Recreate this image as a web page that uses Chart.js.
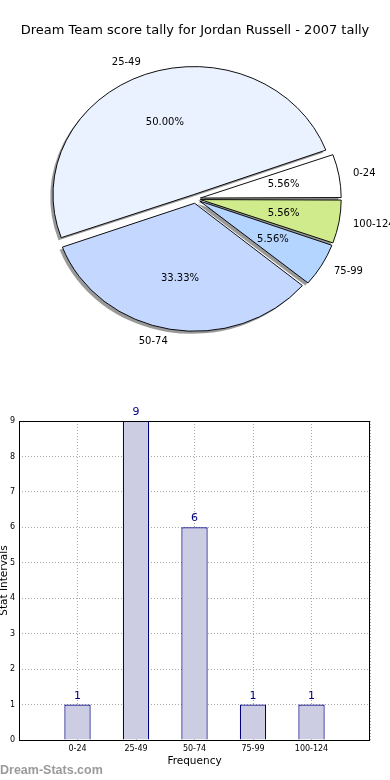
<!DOCTYPE html>
<html>
<head>
<meta charset="utf-8">
<script src="https://cdn.jsdelivr.net/npm/chart.js@4"></script>
<style>
  html, body { margin: 0; padding: 0; background: #fff; }
  #wrap { position: relative; width: 390px; height: 780px; overflow: hidden; }
  canvas { display: block; }
  #mark { position: absolute; left: 0; top: 764px; font: bold 12.5px "Liberation Sans", sans-serif; line-height: 12.5px; color: #9a9a9a; white-space: nowrap; }
</style>
</head>
<body>
<div id="wrap">
  <canvas id="pieChart" width="390" height="390"></canvas>
  <canvas id="barChart" width="390" height="390"></canvas>
  <div id="mark">Dream-Stats.com</div>
</div>
<script>
/* ── Data ─────────────────────────────────────────────── */
const categories = ['0-24', '25-49', '50-74', '75-99', '100-124'];
const counts = [1, 9, 6, 1, 1];
const yTicks = [0, 1, 2, 3, 4, 5, 6, 7, 8, 9];
const pieColors = ['#FFFFFF', '#EBF2FF', '#C4D8FF', '#B4D5FF', '#CFEB8B'];

Chart.defaults.font.family = 'DejaVu Sans';
Chart.defaults.color = '#000';

/* ── Pie (matplotlib style: counter-clockwise from east, so reverse for Chart.js) ── */
const pieLabels = categories.slice().reverse();
const pieData = counts.slice().reverse();
const pieBg = pieColors.slice().reverse();
const PIE_R = 128;
const SX = 1.10;      // ellipse stretch
const SHIFT_X = 0.5;

const pieLook = {
  id: 'pieLook',
  afterUpdate(chart) {
    // Chart.js grows arcs by offset*fix; undo it so every wedge keeps the same radius
    chart.getDatasetMeta(0).data.forEach(el => {
      const off = (el.options.offset || 0) / 4;
      const fix = 1 - Math.sin(Math.min(Math.PI, el.circumference));
      el.outerRadius = PIE_R - off * fix;
    });
  },
  beforeDatasetsDraw(chart) {
    const ctx = chart.ctx;
    const arcs = chart.getDatasetMeta(0).data;
    const cx = arcs[0].x;
    ctx.save();
    ctx.translate(cx + SHIFT_X, 0);
    ctx.scale(SX, 1);
    ctx.translate(-cx, 0);
    // shadows first
    arcs.forEach(el => {
      const fake = Object.create(el);
      fake.options = Object.assign({}, el.options, { backgroundColor: 'rgba(0,0,0,0.4)', borderColor: 'rgba(0,0,0,0)' });
      ctx.save();
      ctx.translate(-2.5, 2.6);
      el.draw.call(fake, ctx);
      ctx.restore();
    });
  },
  afterDatasetsDraw(chart) {
    const ctx = chart.ctx;
    ctx.restore();
    const arcs = chart.getDatasetMeta(0).data;
    const total = pieData.reduce((a, b) => a + b, 0);
    const cx = arcs[0].x;
    const sx = x => cx + SHIFT_X + (x - cx) * SX;
    ctx.save();
    ctx.fillStyle = '#000';
    ctx.font = '10px "DejaVu Sans"';
    ctx.textBaseline = 'middle';
    arcs.forEach((el, i) => {
      const mid = (el.startAngle + el.endAngle) / 2;
      const off = (el.options.offset || 0) / 4;
      const ax = el.x + Math.cos(mid) * off;
      const ay = el.y + Math.sin(mid) * off;
      // category label
      ctx.textAlign = Math.cos(mid) > 0 ? 'left' : 'right';
      ctx.fillText(pieLabels[i], sx(ax + 1.1 * PIE_R * Math.cos(mid)), ay + 1.1 * PIE_R * Math.sin(mid));
      // percentage
      ctx.textAlign = 'center';
      const pct = (pieData[i] / total * 100).toFixed(2) + '%';
      ctx.fillText(pct, sx(ax + 0.6 * PIE_R * Math.cos(mid)), ay + 0.6 * PIE_R * Math.sin(mid));
    });
    ctx.restore();
  }
};

new Chart(document.getElementById('pieChart'), {
  type: 'pie',
  data: {
    labels: pieLabels,
    datasets: [{
      data: pieData,
      backgroundColor: pieBg,
      borderColor: '#000',
      borderWidth: 0.9,
      offset: 18
    }]
  },
  options: {
    responsive: false,
    animation: false,
    rotation: 90,
    radius: PIE_R,
    layout: { padding: { left: 0, right: 0, top: 0, bottom: 41 } },
    plugins: {
      legend: { display: false },
      tooltip: { enabled: false },
      title: {
        display: true,
        text: 'Dream Team score tally for Jordan Russell - 2007 tally',
        color: '#000',
        font: { size: 13, weight: 'normal' },
        padding: { top: 23, bottom: 10 }
      }
    }
  },
  plugins: [pieLook]
});

/* ── Bar chart ────────────────────────────────────────── */
const barExtras = {
  id: 'barExtras',
  afterDraw(chart) {
    const ctx = chart.ctx;
    const a = chart.chartArea;
    ctx.save();
    ctx.strokeStyle = '#000';
    ctx.lineWidth = 1;
    ctx.strokeRect(Math.round(a.left) + 0.5, Math.round(a.top) + 0.5, Math.round(a.right - a.left) - 1, Math.round(a.bottom - a.top));
    ctx.fillStyle = '#000080';
    ctx.font = '11px "DejaVu Sans"';
    ctx.textAlign = 'center';
    ctx.textBaseline = 'alphabetic';
    chart.getDatasetMeta(0).data.forEach((el, i) => {
      ctx.fillText(String(counts[i]), el.x, el.y - 6);
    });
    ctx.restore();
  }
};

const gridStyle = { color: '#a8a8a8', lineWidth: 1, drawTicks: false };

new Chart(document.getElementById('barChart'), {
  type: 'bar',
  data: {
    datasets: [{
      data: categories.map((c, i) => ({ x: i + 1, y: counts[i] })),
      backgroundColor: '#CCCCE3',
      borderColor: '#000080',
      borderWidth: 1.2,
      categoryPercentage: 1,
      barPercentage: 0.45
    }]
  },
  options: {
    responsive: false,
    animation: false,
    layout: { padding: { left: 0, right: 20, top: 31, bottom: 0 } },
    plugins: { legend: { display: false }, tooltip: { enabled: false } },
    scales: {
      x: {
        type: 'linear',
        min: 0,
        max: categories.length + 1,
        offset: false,
        z: 1,
        afterFit: s => { s.height = 40; },
        ticks: {
          stepSize: 1, autoSkip: false, maxRotation: 0, padding: 4,
          color: '#000', font: { size: 8 },
          callback: v => categories[v - 1] || ''
        },
        grid: Object.assign({ offset: false }, gridStyle),
        border: { display: false, dash: [1, 2] },
        title: { display: true, text: 'Frequency', color: '#000', font: { size: 10.5 }, padding: { top: 0, bottom: 12 } }
      },
      y: {
        min: yTicks[0],
        max: yTicks[yTicks.length - 1],
        z: 1,
        afterFit: s => { s.width = 19; },
        afterBuildTicks: s => { s.ticks = yTicks.map(v => ({ value: v })); },
        ticks: { padding: 4, color: '#000', font: { size: 8 } },
        grid: gridStyle,
        border: { display: false, dash: [1, 2] },
        title: { display: true, text: 'Stat Intervals', color: '#000', font: { size: 10.5 }, padding: { top: -2.5, bottom: 0 } }
      }
    }
  },
  plugins: [barExtras]
});
</script>
</body>
</html>
